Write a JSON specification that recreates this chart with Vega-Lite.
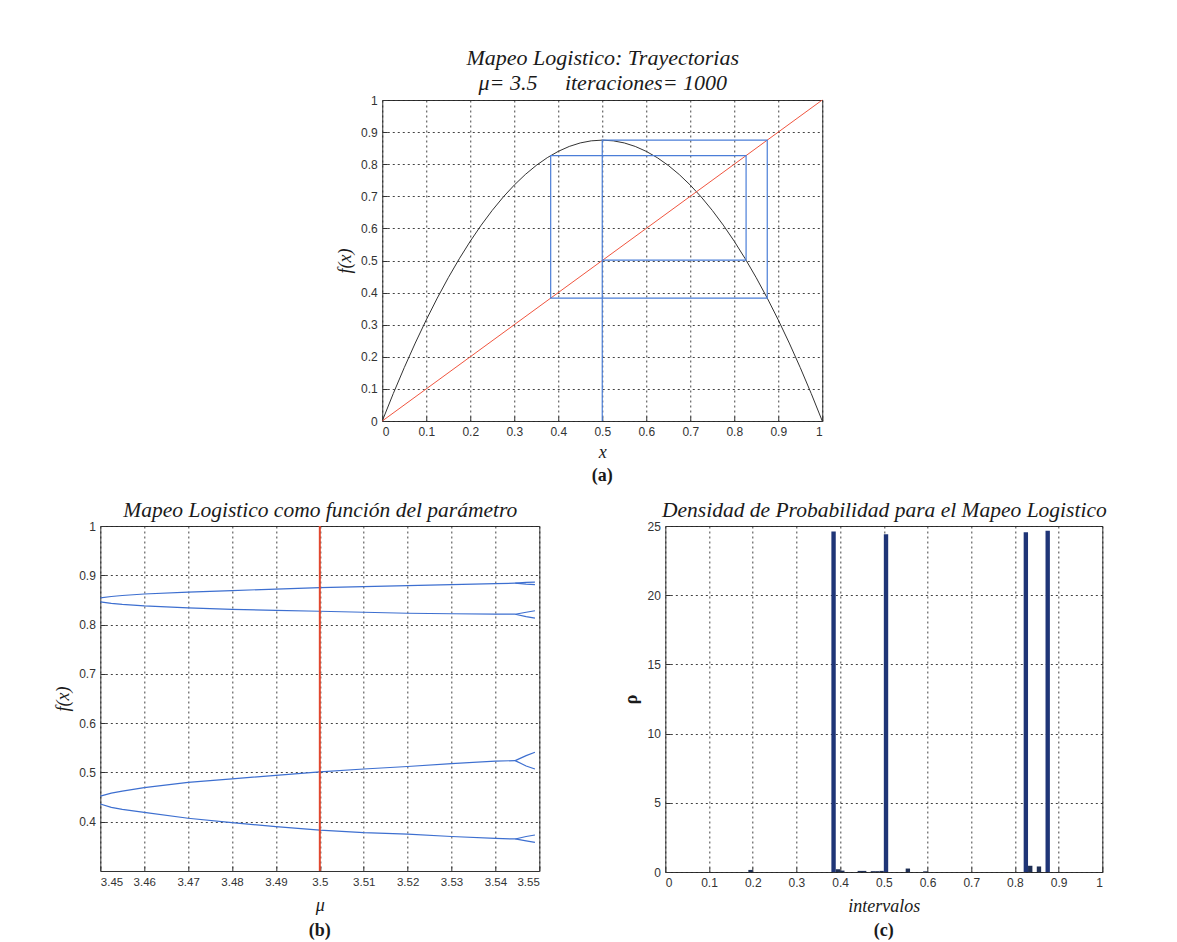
{
  "$schema": "https://vega.github.io/schema/vega-lite/v6.json",
  "background": "white",
  "padding": {"left": 54, "top": 46, "right": 5, "bottom": 5},
  "center": true,
  "spacing": 12,
  "datasets": {
    "parabola": [
      {"x": 0, "y": 0}, {"x": 0.025, "y": 0.0853}, {"x": 0.05, "y": 0.16625}, {"x": 0.075, "y": 0.2428},
      {"x": 0.1, "y": 0.315}, {"x": 0.125, "y": 0.3828}, {"x": 0.15, "y": 0.44625}, {"x": 0.175, "y": 0.5053},
      {"x": 0.2, "y": 0.56}, {"x": 0.225, "y": 0.6103}, {"x": 0.25, "y": 0.65625}, {"x": 0.275, "y": 0.6978},
      {"x": 0.3, "y": 0.735}, {"x": 0.325, "y": 0.7678}, {"x": 0.35, "y": 0.79625}, {"x": 0.375, "y": 0.8203},
      {"x": 0.4, "y": 0.84}, {"x": 0.425, "y": 0.8553}, {"x": 0.45, "y": 0.86625}, {"x": 0.475, "y": 0.8728},
      {"x": 0.5, "y": 0.875}, {"x": 0.525, "y": 0.8728}, {"x": 0.55, "y": 0.86625}, {"x": 0.575, "y": 0.8553},
      {"x": 0.6, "y": 0.84}, {"x": 0.625, "y": 0.8203}, {"x": 0.65, "y": 0.79625}, {"x": 0.675, "y": 0.7678},
      {"x": 0.7, "y": 0.735}, {"x": 0.725, "y": 0.6978}, {"x": 0.75, "y": 0.65625}, {"x": 0.775, "y": 0.6103},
      {"x": 0.8, "y": 0.56}, {"x": 0.825, "y": 0.5053}, {"x": 0.85, "y": 0.44625}, {"x": 0.875, "y": 0.3828},
      {"x": 0.9, "y": 0.315}, {"x": 0.925, "y": 0.2428}, {"x": 0.95, "y": 0.16625}, {"x": 0.975, "y": 0.0853},
      {"x": 1, "y": 0}
    ],
    "diagonal": [{"x": 0, "y": 0}, {"x": 1, "y": 1}],
    "cobweb": [
      {"i": 0, "x": 0.5, "y": 0}, {"i": 1, "x": 0.5, "y": 0.875}, {"i": 2, "x": 0.875, "y": 0.875},
      {"i": 3, "x": 0.875, "y": 0.3828}, {"i": 4, "x": 0.3828, "y": 0.3828}, {"i": 5, "x": 0.3828, "y": 0.8269},
      {"i": 6, "x": 0.8269, "y": 0.8269}, {"i": 7, "x": 0.8269, "y": 0.5009}, {"i": 8, "x": 0.5009, "y": 0.5009}
    ],
    "bifurcation": [
      {"branch": "B1", "mu": 3.45, "f": 0.854}, {"branch": "B1", "mu": 3.4525, "f": 0.857}, {"branch": "B1", "mu": 3.455, "f": 0.859},
      {"branch": "B1", "mu": 3.46, "f": 0.862}, {"branch": "B1", "mu": 3.47, "f": 0.866}, {"branch": "B1", "mu": 3.48, "f": 0.869},
      {"branch": "B1", "mu": 3.49, "f": 0.872}, {"branch": "B1", "mu": 3.5, "f": 0.875}, {"branch": "B1", "mu": 3.51, "f": 0.877},
      {"branch": "B1", "mu": 3.52, "f": 0.879}, {"branch": "B1", "mu": 3.53, "f": 0.881}, {"branch": "B1", "mu": 3.54, "f": 0.883},
      {"branch": "B1", "mu": 3.5445, "f": 0.884},
      {"branch": "B1a", "mu": 3.5445, "f": 0.884}, {"branch": "B1a", "mu": 3.547, "f": 0.8855}, {"branch": "B1a", "mu": 3.549, "f": 0.886},
      {"branch": "B1b", "mu": 3.5445, "f": 0.884}, {"branch": "B1b", "mu": 3.547, "f": 0.882}, {"branch": "B1b", "mu": 3.549, "f": 0.881},
      {"branch": "B2", "mu": 3.45, "f": 0.846}, {"branch": "B2", "mu": 3.4525, "f": 0.843}, {"branch": "B2", "mu": 3.455, "f": 0.841},
      {"branch": "B2", "mu": 3.46, "f": 0.838}, {"branch": "B2", "mu": 3.47, "f": 0.834}, {"branch": "B2", "mu": 3.48, "f": 0.831},
      {"branch": "B2", "mu": 3.49, "f": 0.829}, {"branch": "B2", "mu": 3.5, "f": 0.827}, {"branch": "B2", "mu": 3.51, "f": 0.825},
      {"branch": "B2", "mu": 3.52, "f": 0.823}, {"branch": "B2", "mu": 3.53, "f": 0.822}, {"branch": "B2", "mu": 3.54, "f": 0.821},
      {"branch": "B2", "mu": 3.5445, "f": 0.821},
      {"branch": "B2a", "mu": 3.5445, "f": 0.821}, {"branch": "B2a", "mu": 3.547, "f": 0.825}, {"branch": "B2a", "mu": 3.549, "f": 0.828},
      {"branch": "B2b", "mu": 3.5445, "f": 0.821}, {"branch": "B2b", "mu": 3.547, "f": 0.816}, {"branch": "B2b", "mu": 3.549, "f": 0.813},
      {"branch": "B3", "mu": 3.45, "f": 0.452}, {"branch": "B3", "mu": 3.4525, "f": 0.458}, {"branch": "B3", "mu": 3.455, "f": 0.462},
      {"branch": "B3", "mu": 3.46, "f": 0.469}, {"branch": "B3", "mu": 3.47, "f": 0.48}, {"branch": "B3", "mu": 3.48, "f": 0.487},
      {"branch": "B3", "mu": 3.49, "f": 0.494}, {"branch": "B3", "mu": 3.5, "f": 0.501}, {"branch": "B3", "mu": 3.51, "f": 0.507},
      {"branch": "B3", "mu": 3.52, "f": 0.512}, {"branch": "B3", "mu": 3.53, "f": 0.518}, {"branch": "B3", "mu": 3.54, "f": 0.523},
      {"branch": "B3", "mu": 3.5445, "f": 0.524},
      {"branch": "B3a", "mu": 3.5445, "f": 0.524}, {"branch": "B3a", "mu": 3.547, "f": 0.534}, {"branch": "B3a", "mu": 3.549, "f": 0.541},
      {"branch": "B3b", "mu": 3.5445, "f": 0.524}, {"branch": "B3b", "mu": 3.547, "f": 0.513}, {"branch": "B3b", "mu": 3.549, "f": 0.507},
      {"branch": "B4", "mu": 3.45, "f": 0.436}, {"branch": "B4", "mu": 3.4525, "f": 0.429}, {"branch": "B4", "mu": 3.455, "f": 0.425},
      {"branch": "B4", "mu": 3.46, "f": 0.419}, {"branch": "B4", "mu": 3.47, "f": 0.407}, {"branch": "B4", "mu": 3.48, "f": 0.398},
      {"branch": "B4", "mu": 3.49, "f": 0.39}, {"branch": "B4", "mu": 3.5, "f": 0.383}, {"branch": "B4", "mu": 3.51, "f": 0.378},
      {"branch": "B4", "mu": 3.52, "f": 0.375}, {"branch": "B4", "mu": 3.53, "f": 0.37}, {"branch": "B4", "mu": 3.54, "f": 0.366},
      {"branch": "B4", "mu": 3.5445, "f": 0.365},
      {"branch": "B4a", "mu": 3.5445, "f": 0.365}, {"branch": "B4a", "mu": 3.547, "f": 0.37}, {"branch": "B4a", "mu": 3.549, "f": 0.373},
      {"branch": "B4b", "mu": 3.5445, "f": 0.365}, {"branch": "B4b", "mu": 3.547, "f": 0.361}, {"branch": "B4b", "mu": 3.549, "f": 0.358}
    ],
    "mu_line": [{"mu": 3.5}],
    "big_bins": [
      {"lo": 0.38, "hi": 0.39, "rho": 24.6},
      {"lo": 0.5, "hi": 0.51, "rho": 24.4},
      {"lo": 0.82, "hi": 0.83, "rho": 24.55},
      {"lo": 0.87, "hi": 0.88, "rho": 24.65}
    ],
    "small_bins": [
      {"lo": 0.19, "hi": 0.2, "rho": 0.15},
      {"lo": 0.39, "hi": 0.4, "rho": 0.2},
      {"lo": 0.4, "hi": 0.41, "rho": 0.1},
      {"lo": 0.44, "hi": 0.45, "rho": 0.08},
      {"lo": 0.45, "hi": 0.46, "rho": 0.08},
      {"lo": 0.47, "hi": 0.48, "rho": 0.06},
      {"lo": 0.48, "hi": 0.49, "rho": 0.06},
      {"lo": 0.49, "hi": 0.5, "rho": 0.08},
      {"lo": 0.55, "hi": 0.56, "rho": 0.25},
      {"lo": 0.59, "hi": 0.6, "rho": 0.05},
      {"lo": 0.83, "hi": 0.84, "rho": 0.45},
      {"lo": 0.85, "hi": 0.86, "rho": 0.4}
    ]
  },
  "vconcat": [
    {
      "width": 440,
      "height": 321,
      "title": {"text": "(a)", "orient": "bottom", "offset": 6},
      "resolve": {"axis": {"x": "independent"}},
      "layer": [
        {
          "data": {"name": "parabola"},
          "mark": {"type": "line", "color": "#333333", "strokeWidth": 1},
          "encoding": {
            "x": {"field": "x", "type": "quantitative", "scale": {"domain": [0, 1], "nice": false},
                  "axis": {"values": [0, 0.1, 0.2, 0.3, 0.4, 0.5, 0.6, 0.7, 0.8, 0.9, 1], "format": "~g", "title": "x"}},
            "y": {"field": "y", "type": "quantitative", "scale": {"domain": [0, 1], "nice": false},
                  "axis": {"values": [0, 0.1, 0.2, 0.3, 0.4, 0.5, 0.6, 0.7, 0.8, 0.9, 1], "format": "~g", "title": "f(x)"}}
          }
        },
        {
          "data": {"name": "diagonal"},
          "mark": {"type": "line", "color": "#f0553f", "strokeWidth": 1},
          "encoding": {
            "x": {"field": "x", "type": "quantitative",
                  "axis": {"orient": "top", "title": ["Mapeo Logistico: Trayectorias", "μ= 3.5\u00a0\u00a0\u00a0\u00a0\u00a0iteraciones= 1000"],
                           "labels": false, "ticks": false, "domain": false, "grid": false, "titlePadding": 6, "titleFontSize": 22, "titleLineHeight": 24.5}},
            "y": {"field": "y", "type": "quantitative",
                  "axis": {"values": [0, 0.1, 0.2, 0.3, 0.4, 0.5, 0.6, 0.7, 0.8, 0.9, 1], "format": "~g", "title": "f(x)"}}
          }
        },
        {
          "data": {"name": "cobweb"},
          "mark": {"type": "line", "color": "#4b7ed8", "strokeWidth": 1.2},
          "encoding": {
            "x": {"field": "x", "type": "quantitative", "axis": null},
            "y": {"field": "y", "type": "quantitative",
                  "axis": {"values": [0, 0.1, 0.2, 0.3, 0.4, 0.5, 0.6, 0.7, 0.8, 0.9, 1], "format": "~g", "title": "f(x)"}},
            "order": {"field": "i", "type": "quantitative"}
          }
        }
      ]
    },
    {
      "bounds": "flush",
      "spacing": 126,
      "hconcat": [
        {
          "width": 439,
          "height": 345,
          "title": {"text": "(b)", "orient": "bottom", "offset": 7},
          "resolve": {"axis": {"x": "independent"}},
          "layer": [
            {
              "data": {"name": "bifurcation"},
              "mark": {"type": "line", "color": "#3d6fd0", "strokeWidth": 1.2},
              "encoding": {
                "x": {"field": "mu", "type": "quantitative", "scale": {"domain": [3.45, 3.55], "nice": false, "zero": false},
                      "axis": {"values": [3.45, 3.46, 3.47, 3.48, 3.49, 3.5, 3.51, 3.52, 3.53, 3.54, 3.55], "format": "~g", "title": "μ", "titlePadding": 9, "labelFontSize": 11.5}},
                "y": {"field": "f", "type": "quantitative", "scale": {"domain": [0.3, 1], "nice": false, "zero": false},
                      "axis": {"values": [0.4, 0.5, 0.6, 0.7, 0.8, 0.9, 1], "format": "~g", "title": "f(x)"}},
                "detail": {"field": "branch", "type": "nominal"}
              }
            },
            {
              "data": {"name": "mu_line"},
              "mark": {"type": "rule", "color": "#e2472e", "strokeWidth": 2},
              "encoding": {
                "x": {"field": "mu", "type": "quantitative",
                      "axis": {"orient": "top", "title": "Mapeo Logistico como función del parámetro",
                               "labels": false, "ticks": false, "domain": false, "grid": false, "titlePadding": 5, "titleFontSize": 21.5}}
              }
            }
          ]
        },
        {
          "width": 437,
          "height": 346,
          "title": {"text": "(c)", "orient": "bottom", "offset": 7},
          "resolve": {"axis": {"x": "independent"}},
          "layer": [
            {
              "data": {"name": "big_bins"},
              "mark": {"type": "bar", "color": "#1f3577"},
              "encoding": {
                "x": {"field": "lo", "type": "quantitative", "scale": {"domain": [0, 1], "nice": false},
                      "axis": {"values": [0, 0.1, 0.2, 0.3, 0.4, 0.5, 0.6, 0.7, 0.8, 0.9, 1], "format": "~g", "title": "intervalos", "titlePadding": 9}},
                "x2": {"field": "hi"},
                "y": {"field": "rho", "type": "quantitative", "scale": {"domain": [0, 25], "nice": false},
                      "axis": {"values": [0, 5, 10, 15, 20, 25], "title": "ρ", "titleFontStyle": "normal", "titleFontWeight": "bold", "titleFontSize": 18}},
                "y2": {"datum": 0}
              }
            },
            {
              "data": {"name": "small_bins"},
              "mark": {"type": "bar", "color": "#1f2f55"},
              "encoding": {
                "x": {"field": "lo", "type": "quantitative",
                      "axis": {"orient": "top", "title": "Densidad de Probabilidad para el Mapeo Logistico",
                               "labels": false, "ticks": false, "domain": false, "grid": false, "titlePadding": 5, "titleFontSize": 21.5}},
                "x2": {"field": "hi"},
                "y": {"field": "rho", "type": "quantitative",
                      "axis": {"values": [0, 5, 10, 15, 20, 25], "title": "ρ", "titleFontStyle": "normal", "titleFontWeight": "bold", "titleFontSize": 18}},
                "y2": {"datum": 0}
              }
            }
          ]
        }
      ]
    }
  ],
  "config": {
    "view": {"stroke": "#333333", "strokeWidth": 1},
    "axis": {
      "grid": true, "gridColor": "#222222", "gridDash": [2, 3], "gridWidth": 1, "gridOpacity": 0.85,
      "domain": false, "ticks": true, "tickSize": -5, "tickColor": "#333333", "tickWidth": 1,
      "labelFont": "Liberation Sans", "labelFontSize": 12, "labelColor": "#333333", "labelPadding": 10,
      "titleFont": "Liberation Serif", "titleFontStyle": "italic", "titleFontWeight": "normal", "titleFontSize": 18, "titleColor": "#1a1a1a", "titlePadding": 6
    },
    "title": {"font": "Liberation Serif", "fontWeight": "bold", "fontSize": 18, "color": "#1a1a1a"}
  }
}
